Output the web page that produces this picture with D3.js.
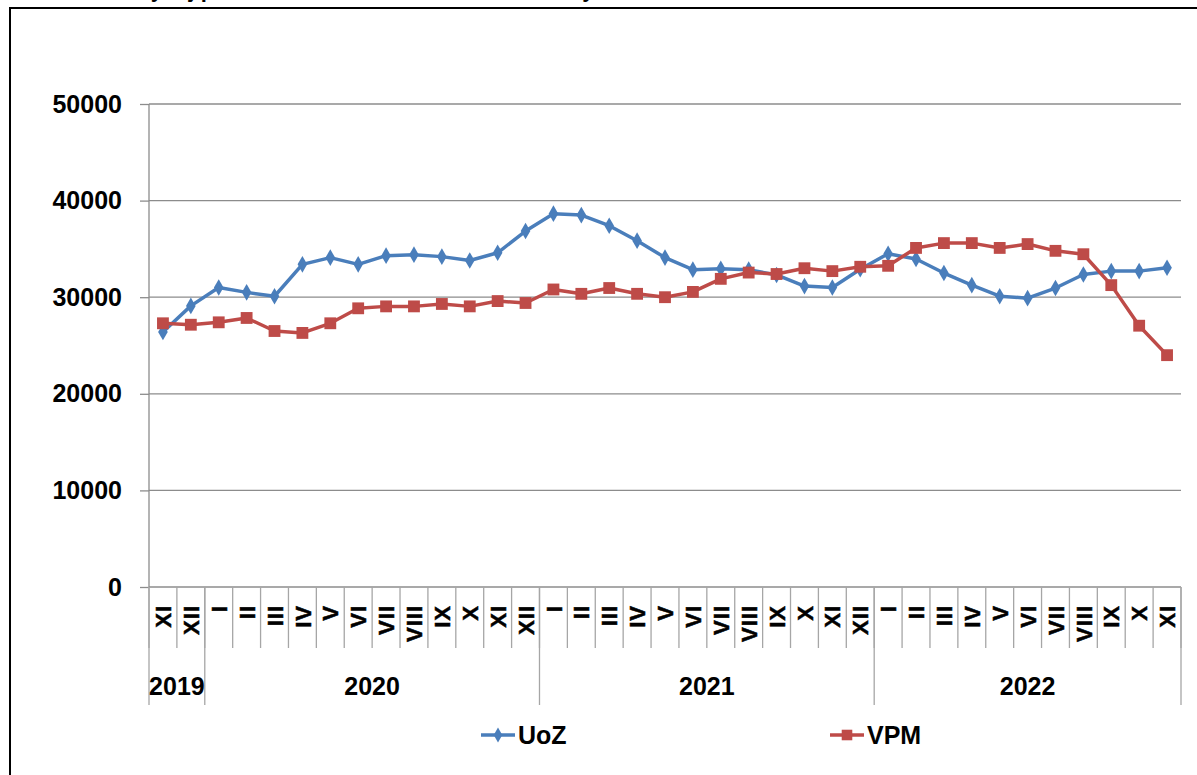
<!DOCTYPE html>
<html>
<head>
<meta charset="utf-8">
<script src="https://cdn.jsdelivr.net/npm/d3@7"></script>
<style>
  body { margin: 0; background: #fff; }
  text { font-family: "Liberation Sans", Arial, sans-serif; font-weight: bold; fill: #000; }
</style>
</head>
<body>
<svg width="1197" height="775"></svg>
<script>
// data
var months = ["XI", "XII",
  "I", "II", "III", "IV", "V", "VI", "VII", "VIII", "IX", "X", "XI", "XII",
  "I", "II", "III", "IV", "V", "VI", "VII", "VIII", "IX", "X", "XI", "XII",
  "I", "II", "III", "IV", "V", "VI", "VII", "VIII", "IX", "X", "XI"];
var years = ["2019", "2020", "2021", "2022"];
var yearCounts = [2, 12, 12, 11];
var uoz = [26400, 29100, 31000, 30500, 30100, 33400, 34100, 33400, 34300, 34400, 34200, 33800, 34600, 36850,
  38650, 38500, 37400, 35850, 34100, 32850, 32950, 32850, 32300, 31150, 31000, 32900,
  34500, 33950, 32500, 31250, 30100, 29900, 30950, 32350, 32700, 32700, 33050];
var vpm = [27300, 27150, 27400, 27850, 26500, 26300, 27300, 28850, 29050, 29050, 29300, 29050, 29600, 29400,
  30800, 30350, 30950, 30350, 30000, 30550, 31900, 32550, 32400, 33000, 32700, 33150,
  33250, 35100, 35600, 35600, 35100, 35500, 34800, 34450, 31250, 27050, 24000];
var yTicks = [0, 10000, 20000, 30000, 40000, 50000];

var svg = d3.select("svg");
var plotLeft = 149, plotRight = 1181, plotTop = 104, plotBottom = 587;

// outer frame and clipped title
svg.append("rect")
  .attr("x", 10).attr("y", 8).attr("width", 1300).attr("height", 900)
  .attr("fill", "none").attr("stroke", "#000").attr("stroke-width", 2);
svg.append("text")
  .attr("x", 136).attr("y", -3)
  .style("font-size", "22px")
  .text("Vývoj počtu uchazečů o zaměstnání a volných míst");

var idx = d3.range(months.length);
var x = d3.scaleBand().domain(idx).range([plotLeft, plotRight]).padding(0);
var y = d3.scaleLinear().domain([0, 50000]).range([plotBottom, plotTop]);
var cx = function (i) { return x(i) + x.bandwidth() / 2; };

// gridlines
svg.append("g")
  .selectAll("line")
  .data(yTicks.filter(function (d) { return d > 0; }))
  .enter().append("line")
  .attr("x1", plotLeft).attr("x2", plotRight)
  .attr("y1", function (d) { return y(d); }).attr("y2", function (d) { return y(d); })
  .attr("stroke", "#8c8c8c").attr("stroke-width", 1.3);

// y axis
var yAxis = svg.append("g")
  .attr("transform", "translate(" + plotLeft + ",0)")
  .call(d3.axisLeft(y).tickValues(yTicks).tickFormat(d3.format("d")).tickSize(9).tickPadding(18));
yAxis.selectAll("line, path").attr("stroke", "#8c8c8c").attr("stroke-width", 1.3);
yAxis.select(".domain").attr("d", "M0," + plotTop + "V" + plotBottom);
yAxis.selectAll("text")
  .style("font-size", "25px").style("font-family", "'Liberation Sans', Arial, sans-serif")
  .style("font-weight", "bold").attr("fill", "#000");

// x baseline
svg.append("line")
  .attr("x1", plotLeft).attr("x2", plotRight).attr("y1", plotBottom).attr("y2", plotBottom)
  .attr("stroke", "#8c8c8c").attr("stroke-width", 1.3);

// month separators
var edge = function (i) { return i < months.length ? x(i) : plotRight; };
svg.append("g")
  .selectAll("line")
  .data(d3.range(months.length + 1))
  .enter().append("line")
  .attr("x1", edge).attr("x2", edge)
  .attr("y1", plotBottom).attr("y2", 648)
  .attr("stroke", "#a6a6a6").attr("stroke-width", 1.3);

// year separators and labels
var yearStart = [];
var acc = 0;
yearCounts.forEach(function (c) { yearStart.push(acc); acc += c; });

svg.append("g")
  .selectAll("line")
  .data(yearStart.concat([months.length]))
  .enter().append("line")
  .attr("x1", edge).attr("x2", edge)
  .attr("y1", plotBottom).attr("y2", 705)
  .attr("stroke", "#a6a6a6").attr("stroke-width", 1.3);

svg.append("g")
  .selectAll("text")
  .data(years)
  .enter().append("text")
  .attr("x", function (d, i) {
    return (edge(yearStart[i]) + edge(yearStart[i] + yearCounts[i])) / 2;
  })
  .attr("y", 695)
  .attr("text-anchor", "middle")
  .style("font-size", "25px")
  .text(function (d) { return d; });

// month labels, rotated
svg.append("g")
  .selectAll("text")
  .data(months)
  .enter().append("text")
  .attr("transform", function (d, i) { return "translate(" + cx(i) + ",605) rotate(-90)"; })
  .attr("text-anchor", "end")
  .attr("dy", "0.37em")
  .style("font-size", "22px")
  .style("letter-spacing", "1px")
  .style("stroke", "#000").style("stroke-width", 0.5)
  .text(function (d) { return d; });

// series
var series = [
  { name: "UoZ", values: uoz, color: "#4a7ebb", symbol: d3.symbolDiamond, size: 80 },
  { name: "VPM", values: vpm, color: "#be4b48", symbol: d3.symbolSquare, size: 140 }
];

var line = d3.line()
  .x(function (d, i) { return cx(i); })
  .y(function (d) { return y(d); });

series.forEach(function (s) {
  var g = svg.append("g");
  g.append("path")
    .attr("d", line(s.values))
    .attr("fill", "none")
    .attr("stroke", s.color)
    .attr("stroke-width", 3.5)
    .attr("stroke-linejoin", "round");
  g.selectAll("path.m")
    .data(s.values)
    .enter().append("path")
    .attr("class", "m")
    .attr("transform", function (d, i) { return "translate(" + cx(i) + "," + y(d) + ")"; })
    .attr("d", d3.symbol().type(s.symbol).size(s.size))
    .attr("fill", s.color);
});

// legend
var legendX = [481, 830];
series.forEach(function (s, i) {
  var g = svg.append("g").attr("transform", "translate(" + legendX[i] + ",735)");
  g.append("line").attr("x1", 0).attr("x2", 34).attr("y1", 0).attr("y2", 0)
    .attr("stroke", s.color).attr("stroke-width", 3.5);
  g.append("path")
    .attr("transform", "translate(17,0)")
    .attr("d", d3.symbol().type(s.symbol).size(s.size * 0.8))
    .attr("fill", s.color);
  g.append("text")
    .attr("x", 37).attr("y", 9)
    .style("font-size", "25px")
    .text(s.name);
});
</script>
</body>
</html>
